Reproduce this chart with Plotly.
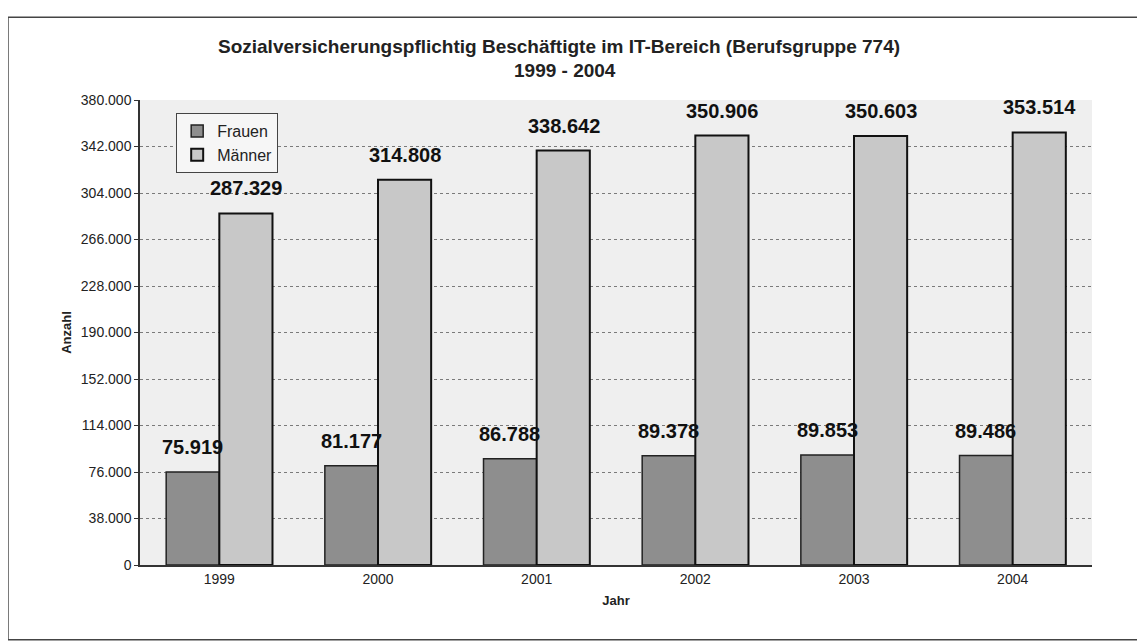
import plotly.graph_objects as go

jahre = ["1999", "2000", "2001", "2002", "2003", "2004"]
frauen = [75919, 81177, 86788, 89378, 89853, 89486]
maenner = [287329, 314808, 338642, 350906, 350603, 353514]
y_ticks = list(range(0, 380001, 38000))

fig = go.Figure()
fig.add_trace(go.Bar(x=jahre, y=frauen, name="Frauen",
                     marker=dict(color="#8e8e8e", line=dict(color="#222", width=1.5))))
fig.add_trace(go.Bar(x=jahre, y=maenner, name="Männer",
                     marker=dict(color="#c8c8c8", line=dict(color="#111", width=2))))

# Datenbeschriftungen ueber den Balken (x = Kategorie-Index)
def fmt(v):
    return "{:,}".format(v).replace(",", ".")

for i in range(len(jahre)):
    for wert, dx in ((frauen[i], -27), (maenner[i], 27)):
        fig.add_annotation(x=i, y=wert, text="<b>" + fmt(wert) + "</b>",
                           xshift=dx, yshift=12, yanchor="bottom", showarrow=False,
                           font=dict(size=20, color="#111"))

fig.update_layout(
    width=1145, height=641,
    separators=",.",
    paper_bgcolor="white", plot_bgcolor="#efefef",
    font=dict(family="Liberation Sans", color="#222"),
    margin=dict(l=132, r=61, t=92, b=84),
    barmode="group", bargap=0.33, bargroupgap=0,
    legend=dict(x=0.038, y=0.972, xanchor="left", yanchor="top",
                bgcolor="#f6f6f6", bordercolor="#444", borderwidth=1,
                font=dict(size=16), tracegroupgap=0),
    showlegend=True,
)

# Titel in zwei Zeilen
fig.add_annotation(xref="paper", yref="paper", x=0.44, y=1.114, yanchor="middle",
                   text="<b>Sozialversicherungspflichtig Beschäftigte im IT-Bereich (Berufsgruppe 774)</b>",
                   showarrow=False, font=dict(size=19, color="#222"))
fig.add_annotation(xref="paper", yref="paper", x=0.446, y=1.0645, yanchor="middle",
                   text="<b>1999 - 2004</b>",
                   showarrow=False, font=dict(size=19, color="#222"))

fig.update_xaxes(type="category", range=[-0.5, len(jahre) - 0.5],
                 title=dict(text="<b>Jahr</b>", font=dict(size=13), standoff=10),
                 tickfont=dict(size=14), showline=True, linecolor="#333", linewidth=1.5,
                 ticks="", showgrid=False)
fig.update_yaxes(title=dict(text="<b>Anzahl</b>", font=dict(size=13), standoff=6),
                 range=[0, 380000], tickvals=y_ticks, tickformat=",d",
                 tickfont=dict(size=14), showline=True, linecolor="#333", linewidth=1.5,
                 ticks="outside", ticklen=4, tickcolor="#333",
                 showgrid=True, gridcolor="#7a7a7a", gridwidth=1, griddash="dot",
                 zeroline=False)

fig.add_shape(type="rect", xref="paper", yref="paper",
              x0=-0.1387, x1=1.0504, y0=-0.161, y1=1.178,
              line=dict(color="#444", width=1.5))

fig.write_html("out.html")
